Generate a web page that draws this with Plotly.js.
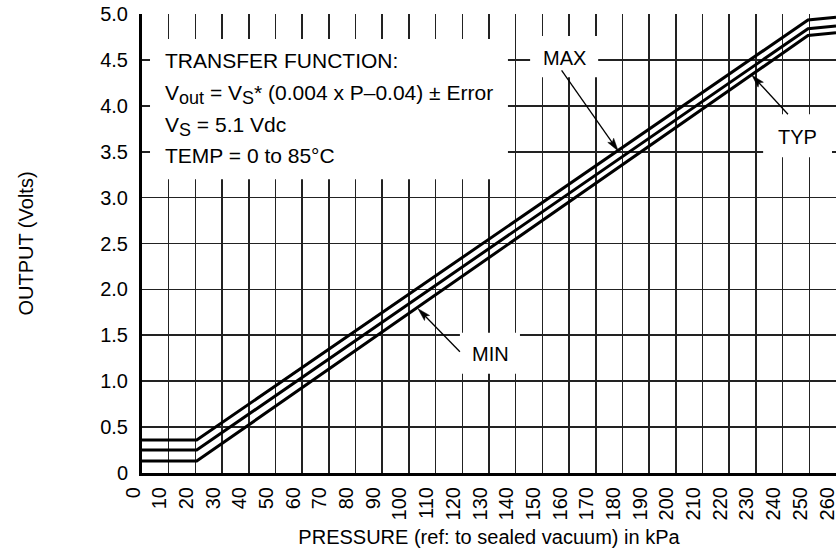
<!DOCTYPE html>
<html>
<head>
<meta charset="utf-8">
<script src="https://cdn.plot.ly/plotly-3.0.1.min.js"></script>
<style>html,body{margin:0;padding:0;background:#fff;}#chart{width:839px;height:551px;}</style>
</head>
<body>
<div id="chart"></div>
<script>
// Pressure (kPa) break points
const pressure = [0, 20.5, 249.5, 260];
// Output voltage (V) for each curve
const vMax = [0.36, 0.36, 4.935, 4.965];
const vTyp = [0.25, 0.25, 4.84, 4.87];
const vMin = [0.13, 0.13, 4.765, 4.795];

const xTicks = [0,10,20,30,40,50,60,70,80,90,100,110,120,130,140,150,160,170,180,190,200,210,220,230,240,250,260];
const xTickText = xTicks.map(String);
const yTicks = [0,0.5,1,1.5,2,2.5,3,3.5,4,4.5,5];
const yTickText = ['0','0.5','1.0','1.5','2.0','2.5','3.0','3.5','4.0','4.5','5.0'];

const SUB = s => '<sub><span style="font-size:18px">' + s + '</span></sub>';
const boxLines = [
  'TRANSFER FUNCTION:',
  'V' + SUB('out') + ' = V' + SUB('S') + '* (0.004 x P\u20130.04) \u00b1 Error',
  'V' + SUB('S') + ' = 5.1 Vdc',
  'TEMP = 0 to 85\u00b0C'
];
const boxYs = [4.498, 4.12, 3.775, 3.46];

// curve labels and the points their arrows run between (tail -> head)
const curveLabels = ['MAX', 'TYP', 'MIN'];
const labelPos = [[158.1, 4.516], [245.5, 3.665], [130.4, 1.297]];
const arrowTail = [[157.2, 4.385], [242.0, 3.908], [119.1, 1.321]];
const arrowHead = [[178.4, 3.508], [228.5, 4.334], [103.4, 1.790]];

const FONT = 'Liberation Sans, Arial, sans-serif';
const lineStyle = {color: '#000', width: 3};

const traces = [
  {x: pressure, y: vMax, name: 'MAX', mode: 'lines', line: lineStyle, hoverinfo: 'skip'},
  {x: pressure, y: vTyp, name: 'TYP', mode: 'lines', line: lineStyle, hoverinfo: 'skip'},
  {x: pressure, y: vMin, name: 'MIN', mode: 'lines', line: lineStyle, hoverinfo: 'skip'}
];

const W = 839, H = 551, M = {l: 142, r: 3, t: 14, b: 78};
const X_RANGE = [0, 260], Y_RANGE = [0, 5];
const pxX = (W - M.l - M.r) / (X_RANGE[1] - X_RANGE[0]);
const pxY = (H - M.t - M.b) / (Y_RANGE[1] - Y_RANGE[0]);

const whiteBox = (x0, x1, y0, y1) => ({type: 'rect', xref: 'x', yref: 'y', x0, x1, y0, y1,
  fillcolor: '#fff', line: {width: 0}, layer: 'above'});

const shapes = [
  whiteBox(3.0, 137.1, 3.199, 4.727),
  whiteBox(145.4, 170.9, 4.31, 4.76),
  whiteBox(232.7, 258.5, 3.439, 3.908),
  whiteBox(119.1, 141.6, 1.081, 1.528)
];

// arrows: a thin line and a filled head, drawn in pixels around the head point
arrowHead.forEach((h, i) => {
  const t = arrowTail[i];
  const dx = (h[0] - t[0]) * pxX, dy = (h[1] - t[1]) * pxY;
  const len = Math.hypot(dx, dy), ux = dx / len, uy = dy / len;
  const L = 13, Wd = 3.6;
  const bx = -L * ux, by = -L * uy;
  const nx = -uy * Wd, ny = ux * Wd;
  shapes.push({type: 'line', xref: 'x', yref: 'y', xsizemode: 'pixel', ysizemode: 'pixel',
    xanchor: h[0], yanchor: h[1], x0: -dx, y0: -dy, x1: bx * 0.7, y1: by * 0.7,
    line: {color: '#000', width: 1.3}, layer: 'above'});
  shapes.push({type: 'path', xref: 'x', yref: 'y', xsizemode: 'pixel', ysizemode: 'pixel',
    xanchor: h[0], yanchor: h[1],
    path: `M0,0 L${(bx + nx).toFixed(2)},${(by + ny).toFixed(2)} L${(bx * 0.8).toFixed(2)},${(by * 0.8).toFixed(2)} L${(bx - nx).toFixed(2)},${(by - ny).toFixed(2)} Z`,
    fillcolor: '#000', line: {color: '#000', width: 0.5}, layer: 'above'});
});

const annotations = boxLines.map((t, i) => ({
  xref: 'x', yref: 'y', x: 7.9, y: boxYs[i], text: t, showarrow: false,
  xanchor: 'left', yanchor: 'middle', font: {family: FONT, size: 21, color: '#000'}
}));
curveLabels.forEach((t, i) => annotations.push({
  xref: 'x', yref: 'y', x: labelPos[i][0], y: labelPos[i][1], text: t, showarrow: false,
  font: {family: FONT, size: 20, color: '#000'}
}));

const layout = {
  width: W, height: H,
  margin: M,
  paper_bgcolor: '#fff', plot_bgcolor: '#fff',
  showlegend: false,
  font: {family: FONT, color: '#000'},
  xaxis: {
    range: X_RANGE, tickvals: xTicks, ticktext: xTickText, tickangle: -90,
    tickfont: {family: FONT, size: 20, color: '#000'},
    ticklabeloverflow: 'allow', ticklabelshift: -9,
    showgrid: true, gridcolor: '#222', gridwidth: 1.6,
    showline: true, linecolor: '#000', linewidth: 3, zeroline: false, ticks: '',
    ticklabelstandoff: 3,
    title: {text: 'PRESSURE (ref: to sealed vacuum) in kPa', font: {family: FONT, size: 20, color: '#000'}, standoff: 11}
  },
  yaxis: {
    range: Y_RANGE, tickvals: yTicks, ticktext: yTickText,
    tickfont: {family: FONT, size: 20, color: '#000'},
    showgrid: true, gridcolor: '#222', gridwidth: 1.6,
    showline: true, linecolor: '#000', linewidth: 3, zeroline: false, ticks: '',
    ticklabelstandoff: 7,
    title: {text: 'OUTPUT (Volts)', font: {family: FONT, size: 20, color: '#000'}, standoff: 62}
  },
  shapes,
  annotations
};

Plotly.newPlot('chart', traces, layout, {displayModeBar: false, staticPlot: true});
</script>
</body>
</html>
